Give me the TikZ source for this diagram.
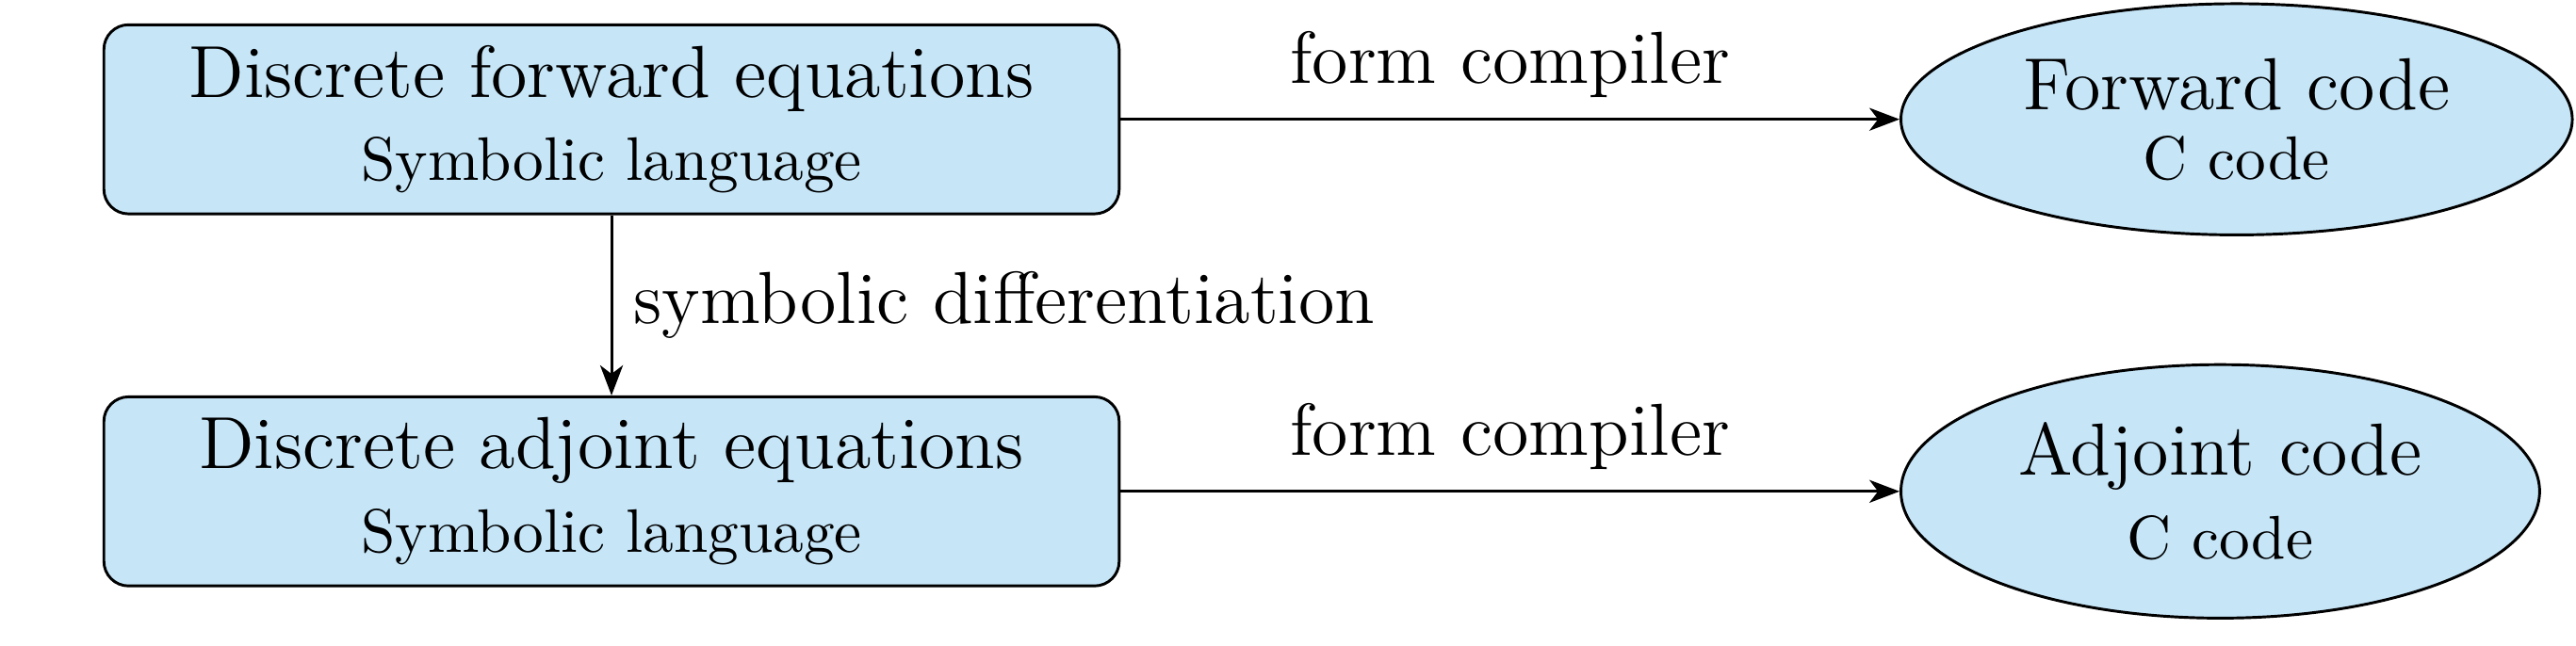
\documentclass[tikz,border=0pt]{standalone}
\usepackage{tikz}
\usetikzlibrary{arrows.meta,shapes,positioning}
\tikzset{>={Stealth[length=4.9pt, width=3.7pt, inset=1.4pt]}}
\definecolor{boxblue}{RGB}{198,230,248}
\newcommand\stacklines{\lineskiplimit=\maxdimen\lineskip=4.2pt}

\begin{document}
\begin{tikzpicture}[node distance=1.03cm and 4.45cm, auto, line width=0.45pt,
    eqbox/.style={draw, fill=boxblue, rounded corners, minimum width=5.8cm,
      align=center, font=\stacklines},
    codebox/.style={draw, fill=boxblue, ellipse, inner xsep=3.9pt,
      align=center, font=\stacklines}]

  \useasboundingbox (-99.4pt,19.4pt) rectangle (319.3pt,-85.6pt);

  \node [eqbox] (fwd) {{\large Discrete forward equations}\\ Symbolic language};
  \node [eqbox] (adj) [below = of fwd] {{\large Discrete adjoint equations}\\ Symbolic language};

  \node [codebox] (fwdcode) [right = of fwd] {{\large Forward code}\\ C code};
  \node [codebox] (adjcode) [right = of adj] {{\large Adjoint code}\\ C code};

  \path [->] (fwd) edge node {\large form compiler} (fwdcode)
             (adj) edge node {\large form compiler} (adjcode)
             (fwd) edge node {\large symbolic differentiation} (adj);
\end{tikzpicture}
\end{document}
